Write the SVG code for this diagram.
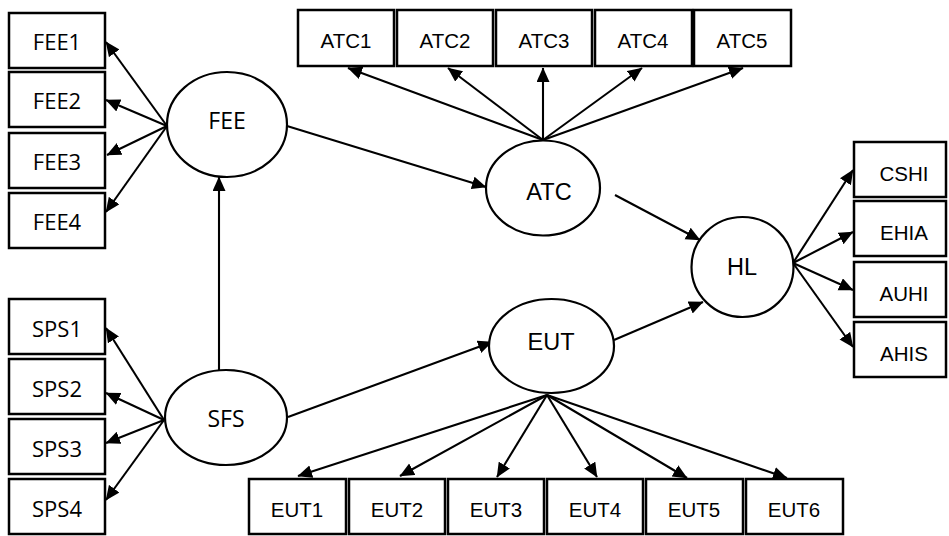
<svg xmlns="http://www.w3.org/2000/svg" width="949" height="536" viewBox="0 0 949 536">
<style>
.box{fill:#fff;stroke:#000;stroke-width:2.5}
.lat{fill:#fff;stroke:#000;stroke-width:2.2}
.ln{stroke:#000;stroke-width:2.1;fill:none;marker-end:url(#ah)}
.c{font-family:"Open Sans","Noto Sans",sans-serif;font-size:22px;text-anchor:middle;fill:#000}
.cl{font-family:"Open Sans","Noto Sans",sans-serif;font-size:23px;text-anchor:middle;fill:#000}
.a{font-family:"Liberation Sans",Arial,sans-serif;font-size:20.5px;text-anchor:middle;fill:#000}
.al{font-family:"Liberation Sans",Arial,sans-serif;font-size:23.5px;text-anchor:middle;fill:#000}
</style>
<defs>
<marker id="ah" markerUnits="userSpaceOnUse" markerWidth="16" markerHeight="14" refX="14" refY="6.5" orient="auto">
<path d="M0,0 L14.5,6.5 L0,13 z" fill="#000"/>
</marker>
</defs>
<rect width="949" height="536" fill="#fff"/>
<g id="connectors">
<line class="ln" x1="167" y1="126" x2="106" y2="42"/>
<line class="ln" x1="167" y1="126" x2="106" y2="100"/>
<line class="ln" x1="167" y1="126" x2="107" y2="155"/>
<line class="ln" x1="167" y1="126" x2="106" y2="212"/>
<line class="ln" x1="219" y1="370" x2="219" y2="177"/>
<line class="ln" x1="287" y1="126" x2="486" y2="187"/>
<line class="ln" x1="543" y1="140" x2="348" y2="68"/>
<line class="ln" x1="543" y1="140" x2="448" y2="68"/>
<line class="ln" x1="543" y1="140" x2="543" y2="68"/>
<line class="ln" x1="543" y1="140" x2="642" y2="68"/>
<line class="ln" x1="543" y1="140" x2="743" y2="68"/>
<line class="ln" x1="615" y1="195" x2="700" y2="240"/>
<line class="ln" x1="614" y1="340" x2="703" y2="302"/>
<line class="ln" x1="793" y1="263" x2="853" y2="170"/>
<line class="ln" x1="793" y1="263" x2="853" y2="232"/>
<line class="ln" x1="793" y1="263" x2="853" y2="290"/>
<line class="ln" x1="793" y1="263" x2="853" y2="347"/>
<line class="ln" x1="164" y1="420" x2="106" y2="328"/>
<line class="ln" x1="164" y1="420" x2="106" y2="393"/>
<line class="ln" x1="164" y1="420" x2="106" y2="443"/>
<line class="ln" x1="164" y1="420" x2="106" y2="500"/>
<line class="ln" x1="288" y1="417" x2="492" y2="342"/>
<line class="ln" x1="547" y1="395" x2="298" y2="476"/>
<line class="ln" x1="547" y1="395" x2="400" y2="476"/>
<line class="ln" x1="547" y1="395" x2="497" y2="477"/>
<line class="ln" x1="547" y1="395" x2="597" y2="477"/>
<line class="ln" x1="547" y1="395" x2="687" y2="478"/>
<line class="ln" x1="547" y1="395" x2="787" y2="478"/>
</g>
<g id="FEE"><ellipse class="lat" cx="227" cy="124.5" rx="60" ry="52.5"/><text class="cl" x="227" y="129">FEE</text></g>
<g id="SFS"><ellipse class="lat" cx="226" cy="417.5" rx="61" ry="47.5"/><text class="cl" x="226" y="427">SFS</text></g>
<g id="ATC"><ellipse class="lat" cx="543" cy="188" rx="57" ry="47.5"/><text class="al" x="549" y="200">ATC</text></g>
<g id="EUT"><ellipse class="lat" cx="551.5" cy="346" rx="62.5" ry="47"/><text class="al" x="551" y="350">EUT</text></g>
<g id="HL"><ellipse class="lat" cx="742.5" cy="267" rx="51" ry="50"/><text class="al" x="742" y="275">HL</text></g>
<g id="FEE1"><rect class="box" x="9" y="13" width="96" height="55"/><text class="c" x="57" y="50">FEE1</text></g>
<g id="FEE2"><rect class="box" x="9" y="72" width="96" height="55"/><text class="c" x="57" y="109">FEE2</text></g>
<g id="FEE3"><rect class="box" x="9" y="133" width="96" height="55"/><text class="c" x="57" y="170">FEE3</text></g>
<g id="FEE4"><rect class="box" x="9" y="193" width="96" height="55"/><text class="c" x="57" y="230">FEE4</text></g>
<g id="SPS1"><rect class="box" x="9" y="299" width="96" height="55"/><text class="c" x="57" y="337">SPS1</text></g>
<g id="SPS2"><rect class="box" x="9" y="359" width="96" height="55"/><text class="c" x="57" y="397">SPS2</text></g>
<g id="SPS3"><rect class="box" x="9" y="419" width="96" height="55"/><text class="c" x="57" y="457">SPS3</text></g>
<g id="SPS4"><rect class="box" x="9" y="479" width="96" height="55"/><text class="c" x="57" y="517">SPS4</text></g>
<g id="ATC1"><rect class="box" x="298" y="10" width="96" height="56"/><text class="a" x="346" y="48">ATC1</text></g>
<g id="ATC2"><rect class="box" x="397" y="10" width="96" height="56"/><text class="a" x="445" y="48">ATC2</text></g>
<g id="ATC3"><rect class="box" x="496" y="10" width="96" height="56"/><text class="a" x="544" y="48">ATC3</text></g>
<g id="ATC4"><rect class="box" x="595" y="10" width="97" height="56"/><text class="a" x="643" y="48">ATC4</text></g>
<g id="ATC5"><rect class="box" x="694" y="10" width="97" height="56"/><text class="a" x="742" y="48">ATC5</text></g>
<g id="CSHI"><rect class="box" x="854" y="142" width="92" height="55"/><text class="a" x="904" y="181">CSHI</text></g>
<g id="EHIA"><rect class="box" x="854" y="201" width="92" height="55"/><text class="a" x="904" y="240">EHIA</text></g>
<g id="AUHI"><rect class="box" x="854" y="262" width="92" height="55"/><text class="a" x="904" y="301">AUHI</text></g>
<g id="AHIS"><rect class="box" x="854" y="322" width="92" height="55"/><text class="a" x="904" y="361">AHIS</text></g>
<g id="EUT1"><rect class="box" x="249" y="479" width="97" height="55"/><text class="a" x="297" y="517">EUT1</text></g>
<g id="EUT2"><rect class="box" x="349" y="479" width="96" height="55"/><text class="a" x="397" y="517">EUT2</text></g>
<g id="EUT3"><rect class="box" x="448" y="479" width="96" height="55"/><text class="a" x="496" y="517">EUT3</text></g>
<g id="EUT4"><rect class="box" x="547" y="479" width="96" height="55"/><text class="a" x="595" y="517">EUT4</text></g>
<g id="EUT5"><rect class="box" x="646" y="479" width="97" height="55"/><text class="a" x="694" y="517">EUT5</text></g>
<g id="EUT6"><rect class="box" x="746" y="479" width="97" height="55"/><text class="a" x="794" y="517">EUT6</text></g>
</svg>
